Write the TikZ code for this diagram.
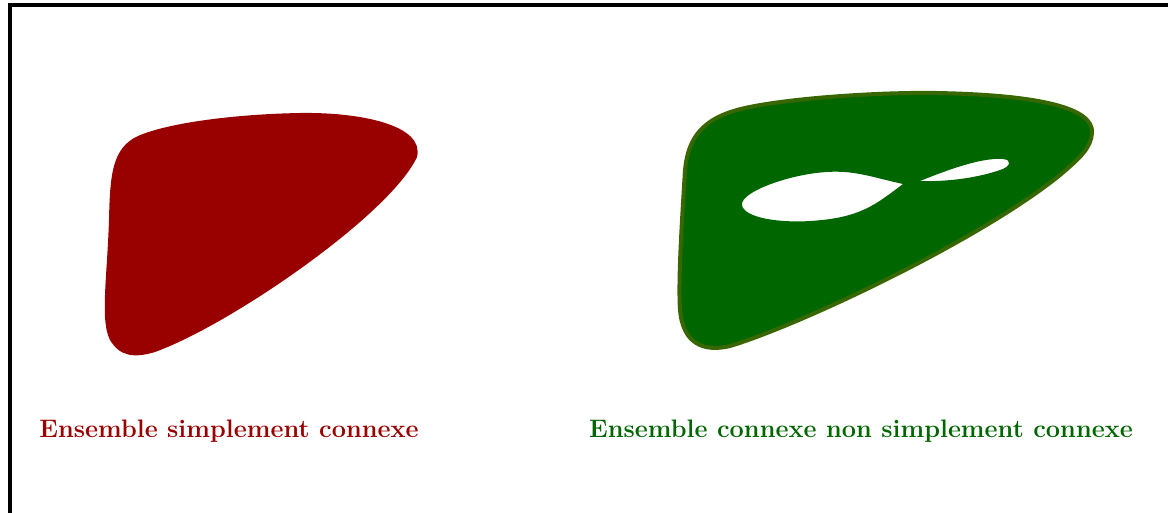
\documentclass[tikz,border=0pt]{standalone}
\begin{document}
\begin{tikzpicture}[x=1pt,y=-1pt,
  lbl/.style={anchor=base,font=\fontsize{25.3}{30}\selectfont\bfseries}]
\definecolor{redset}{RGB}{153,0,0}
\definecolor{greenset}{RGB}{0,102,0}
\definecolor{greenline}{RGB}{56,102,0}
\useasboundingbox (0,0) rectangle (1168,512);
% frame
\draw[line width=4.5pt] (10,5) rectangle (1220,560);
% red simply connected set
\fill[redset] (417,157) .. controls (425,125) and (360,112) .. (300,113)
  .. controls (240,114) and (170,122) .. (138,136)
  .. controls (112,148) and (110,175) .. (109,220)
  .. controls (107,280) and (100,320) .. (110,340)
  .. controls (120,357) and (135,358) .. (155,352)
  .. controls (230,325) and (390,215) .. (417,157) -- cycle;
% green set with hole
\def\outer{(1092,133) .. controls (1094,108) and (1040,95) .. (937,93)
  .. controls (880,92) and (790,98) .. (745,108)
  .. controls (700,118) and (688,140) .. (685,170)
  .. controls (682,220) and (678,280) .. (680,310)
  .. controls (683,345) and (705,352) .. (730,346)
  .. controls (800,325) and (980,240) .. (1060,175)
  .. controls (1080,158) and (1091,148) .. (1092,133) -- cycle}
\fill[greenset,even odd rule] \outer
  (903,184) .. controls (875,178) and (855,170) .. (827,172)
  .. controls (790,174) and (740,192) .. (742,205)
  .. controls (744,218) and (780,223) .. (810,221)
  .. controls (860,218) and (875,205) .. (903,184) -- cycle
  (920,181) .. controls (940,173) and (980,157) .. (1003,159)
  .. controls (1013,160) and (1010,167) .. (1000,170)
  .. controls (980,177) and (950,182) .. (920,181) -- cycle;
\draw[greenline,line width=4pt] \outer;
\node[lbl,text=redset] (lred) at (229,437) {Ensemble simplement connexe};
\node[lbl,text=greenset] (lgreen) at (861,437) {Ensemble connexe non simplement connexe};
\end{tikzpicture}
\end{document}
